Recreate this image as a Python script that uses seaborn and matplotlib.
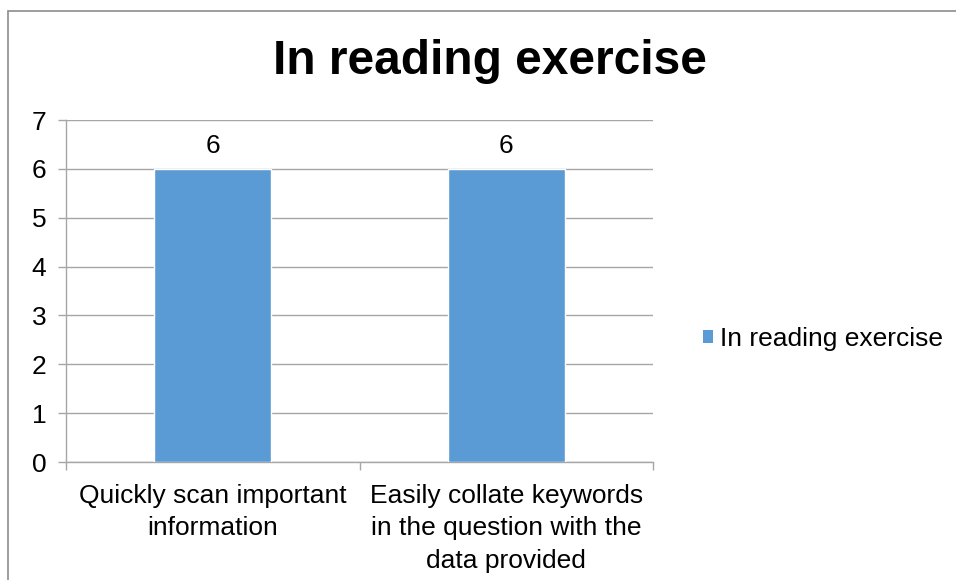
import matplotlib
matplotlib.use("Agg")
import matplotlib.pyplot as plt
import seaborn as sns
import pandas as pd
from matplotlib.patches import Rectangle, Patch

categories = ["Quickly scan important\ninformation",
              "Easily collate keywords\nin the question with the\ndata provided"]
values = [6, 6]
series_name = "In reading exercise"
y_ticks = [0, 1, 2, 3, 4, 5, 6, 7]

sns.set_theme(style="white")
plt.rcParams["font.family"] = ["Liberation Sans", "DejaVu Sans"]
plt.rcParams["text.color"] = "#000000"

df = pd.DataFrame({"category": categories, "value": values})

fig = plt.figure(figsize=(9.56, 5.8), dpi=100)
ax = fig.add_axes([66 / 956, 1 - 462 / 580, (653 - 66) / 956, (462 - 120) / 580])

bar_color = "#5B9BD5"
sns.barplot(data=df, x="category", y="value", color=bar_color, width=0.4,
            saturation=1, ax=ax, zorder=3)

fs = 19
ax.set_ylim(0, 7)
ax.set_xlim(-0.5, 1.5)
ax.set_yticks(y_ticks)
ax.set_yticklabels([str(t) for t in y_ticks], fontsize=fs, color="#000000")
ax.set_xlabel("")
ax.set_ylabel("")

grid_col = "#A6A6A6"
ax.yaxis.grid(True, color=grid_col, linewidth=1, zorder=0)
ax.set_axisbelow(True)
for s in ["top", "right"]:
    ax.spines[s].set_visible(False)
for s in ["left", "bottom"]:
    ax.spines[s].set_color(grid_col)
    ax.spines[s].set_linewidth(1)

# y ticks outside, x ticks at category boundaries
ax.tick_params(axis="y", which="major", direction="out", length=5.8, width=1,
               color=grid_col, pad=8.5, left=True)
ax.set_xticks([0, 1])
ax.set_xticklabels(categories, fontsize=fs, color="#000000", linespacing=1.45)
ax.tick_params(axis="x", which="major", length=0, pad=15.5)
ax.set_xticks([-0.5, 0.5, 1.5], minor=True)
ax.tick_params(axis="x", which="minor", direction="out", length=5.8, width=1,
               color=grid_col, bottom=True)

for cont in ax.containers:
    ax.bar_label(cont, labels=[str(v) for v in values], padding=8,
                 fontsize=fs, color="#000000")

fig.text(490 / 956, 1 - 62 / 580, series_name, ha="center", va="center",
         fontsize=34.5, fontweight="bold", color="#000000")

handle = Patch(facecolor=bar_color, edgecolor="none")
fig.legend([handle], [series_name], loc="center left",
           bbox_to_anchor=(703 / 956, 1 - 339 / 580), frameon=False,
           fontsize=fs, handlelength=0.38, handleheight=0.38,
           handletextpad=0.25, borderaxespad=0, borderpad=0)

# outer chart border
fig.patches.append(Rectangle((8 / 956, -0.05), 1.1, 1 - 11 / 580 + 0.05,
                             transform=fig.transFigure, fill=False,
                             edgecolor="#8C8C8C", linewidth=1.2))

fig.savefig("out.png", dpi=100)
